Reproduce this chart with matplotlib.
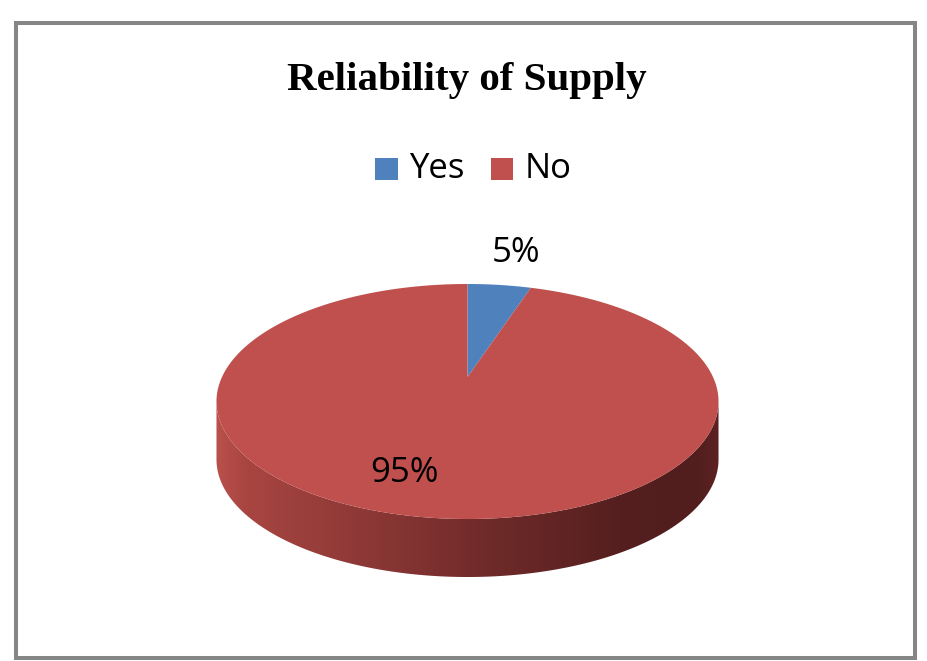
import numpy as np
import matplotlib
matplotlib.use("Agg")
import matplotlib.pyplot as plt
from matplotlib.patches import Polygon, Rectangle
from matplotlib.colors import LinearSegmentedColormap

# ---- data ----
labels = ["Yes", "No"]
values = [5, 95]
colors = ["#4F81BD", "#C0504D"]
title = "Reliability of Supply"

W, H = 928, 661
fig = plt.figure(figsize=(W / 100, H / 100), dpi=100)
ax = fig.add_axes([0, 0, 1, 1])
ax.set_xlim(0, W)
ax.set_ylim(H, 0)
ax.axis("off")

# frame
ax.add_patch(Rectangle((16, 22.5), 899, 635.5, fill=False, edgecolor="#868686",
                       linewidth=2.9, zorder=1))

# title
ax.text(467, 90, title, ha="center", va="baseline", fontsize=29.5, fontweight="bold",
        family="Liberation Serif", color="black")

# legend
legend_font = "Open Sans"
sq_x = [375.5, 491]
txt_x = [409, 525]
for i, (lab, col) in enumerate(zip(labels, colors)):
    ax.add_patch(Rectangle((sq_x[i], 157.5), 22.5, 22.5, facecolor=col, edgecolor="none"))
    ax.text(txt_x[i], 178, lab, ha="left", va="baseline", fontsize=25,
            family=legend_font, color="black")

# ---- 3D pie geometry (perspective projection of a disc) ----
cx, cy = 467.5, 377
A, B, p = 245.5, 112.4, 0.2085
D = 58  # thickness


def proj(theta_deg, dy=0.0):
    t = np.radians(theta_deg)
    u, v = np.cos(t), np.sin(t)
    s = 1.0 / (1.0 + p * v)
    return cx + A * u * s, cy - B * v * s + dy


total = float(sum(values))
fracs = np.array(values) / total
cum = np.concatenate([[0], np.cumsum(fracs)])
start_angle = 90.0

# visible front arc of the side wall
a0 = np.degrees(np.arcsin(p))
front_lo, front_hi = -180 + a0, -a0

cmap = LinearSegmentedColormap.from_list(
    "side",
    [(0.0, "#B9504C"), (0.06, "#A84541"), (0.3, "#8C3836"), (0.55, "#6E2A29"),
     (0.8, "#561F1F"), (0.95, "#511D1D"), (1.0, "#5C2222")])

xl_, _ = proj(180 + a0)
xr_, _ = proj(-a0)
for i in range(len(values)):
    hi = start_angle - 360 * cum[i]
    lo = start_angle - 360 * cum[i + 1]
    for k in (-1, 0, 1):
        s0 = max(lo, front_lo + 360 * k)
        s1 = min(hi, front_hi + 360 * k)
        if s1 > s0:
            th = np.linspace(s0, s1, 200)
            xt, yt = proj(th)
            xb, yb = proj(th[::-1], D)
            poly = Polygon(np.column_stack([np.concatenate([xt, xb]),
                                            np.concatenate([yt, yb])]),
                           closed=True, facecolor="none", edgecolor="none")
            ax.add_patch(poly)
            grad = np.linspace(0, 1, 512).reshape(1, -1)
            im = ax.imshow(grad, cmap=cmap, aspect="auto",
                           extent=[xl_, xr_, 600, 250], zorder=2,
                           interpolation="bilinear")
            im.set_clip_path(poly)

# top faces
for i in range(len(values)):
    hi = start_angle - 360 * cum[i]
    lo = start_angle - 360 * cum[i + 1]
    th = np.linspace(hi, lo, 400)
    xs, ys = proj(th)
    pts = np.column_stack([np.concatenate([[cx], xs]), np.concatenate([[cy], ys])])
    ax.add_patch(Polygon(pts, closed=True, facecolor=colors[i], edgecolor="none",
                         zorder=3))

# data labels
label_pos = [(516, 262), (405, 482)]
for i, (x, y) in enumerate(label_pos):
    ax.text(x, y, f"{values[i]}%", ha="center", va="baseline", fontsize=25,
            family=legend_font, color="black", zorder=5)

fig.savefig("out.png", dpi=100, facecolor="white")
